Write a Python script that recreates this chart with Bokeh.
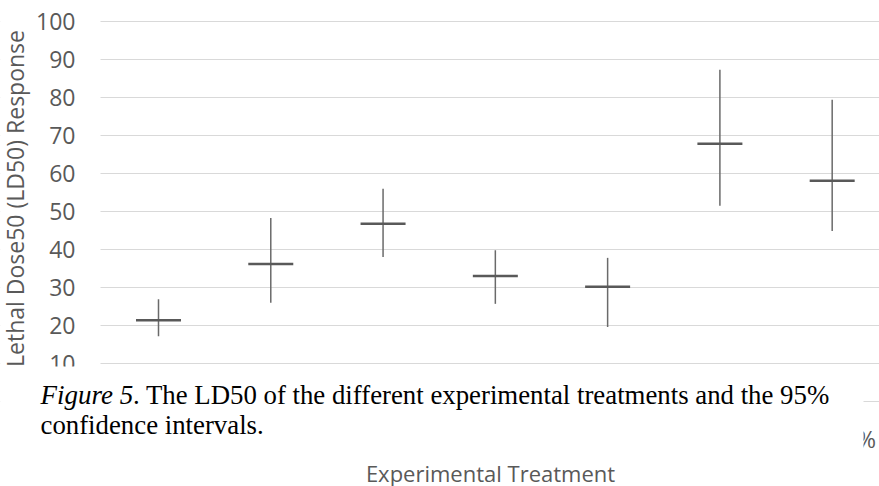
from bokeh.plotting import figure
from bokeh.models import (Range1d, FixedTicker, Label, LabelSet, BoxAnnotation, Grid,
                          ColumnDataSource)
from bokeh.core.properties import value
from bokeh.embed import file_html
from bokeh.resources import INLINE
import math

# ---- data ----
treatments = ["T1", "T2", "T3", "T4", "T5", "T6", "T7"]
ld50 = [21.4, 36.2, 46.8, 33.0, 30.2, 67.8, 58.1]
ci_lower = [17.2, 26.0, 38.0, 25.7, 19.6, 51.5, 44.9]
ci_upper = [26.9, 48.3, 56.0, 39.8, 37.8, 87.3, 79.4]
y_ticks = [0, 10, 20, 30, 40, 50, 60, 70, 80, 90, 100]

x_title = "Experimental Treatment"
y_title = "Lethal Dose50 (LD50) Response"
cap_italic = "Figure 5"
cap_rest = ".  The LD50 of the different experimental treatments and the 95%"
cap_line2 = "confidence intervals."

# ---- geometry of the chart (pixels) ----
W, H = 879, 486
CAT0_PX, CAT_STEP = 158.0, 112.28      # centre of first category, spacing
Y100_PX, PX_PER_UNIT = 21.0, 3.8       # pixel row of value 100, pixels per unit

def px_x(px):
    return (px - CAT0_PX) / CAT_STEP

def px_y(py):
    return 100 - (py - Y100_PX) / PX_PER_UNIT

p = figure(width=W, height=H, output_backend="svg", toolbar_location=None,
           x_range=Range1d(px_x(0), px_x(W)), y_range=Range1d(px_y(H), px_y(0)),
           x_axis_type=None, y_axis_type=None,
           min_border=0, min_border_left=0, min_border_right=0,
           min_border_top=0, min_border_bottom=0)
p.outline_line_color = None
p.background_fill_color = "white"
p.border_fill_color = "white"

ticker = FixedTicker(ticks=y_ticks)
p.add_layout(Grid(dimension=1, ticker=ticker, grid_line_color="#d9d9d9", grid_line_width=1))
# plot area starts at x=100: blank the grid left of it
p.add_layout(BoxAnnotation(left=px_x(0), right=px_x(100), top=px_y(0), bottom=px_y(H),
                           fill_color="white", fill_alpha=1.0, line_alpha=0, level="underlay"))

xs = list(range(len(treatments)))
p.segment(x0=xs, y0=ci_lower, x1=xs, y1=ci_upper, line_color="#6a6a6a", line_width=1.5)
p.scatter(x=xs, y=ld50, marker="dash", size=45, line_color="#595959", line_width=2.5)

# y tick labels
tick_src = ColumnDataSource(dict(x=[px_x(75)] * len(y_ticks), y=y_ticks,
                                 t=[str(v) for v in y_ticks]))
p.add_layout(LabelSet(x="x", y="y", text="t", source=tick_src, text_font=value("Open Sans"),
                      text_font_size=value("23px"), text_color="#595959",
                      text_align="right", text_baseline="middle"))

# partially hidden x tick label fragment
p.add_layout(Label(x=px_x(866), y=px_y(438), text="%", text_font="Open Sans",
                   text_font_size="23px", text_color="#595959",
                   text_align="center", text_baseline="middle"))

# caption box covering the x labels
p.add_layout(BoxAnnotation(left=px_x(28), right=px_x(863), top=px_y(366), bottom=px_y(462),
                           fill_color="white", fill_alpha=1.0, line_alpha=0))

serif = "Liberation Serif"
p.add_layout(Label(x=px_x(40), y=px_y(394), text=cap_italic, text_font=serif,
                   text_font_style="italic", text_font_size="27px", text_color="black",
                   text_align="left", text_baseline="middle"))
p.add_layout(Label(x=px_x(132.5), y=px_y(394), text=cap_rest, text_font=serif,
                   text_font_size="26.8px", text_color="black",
                   text_align="left", text_baseline="middle"))
p.add_layout(Label(x=px_x(40), y=px_y(424), text=cap_line2, text_font=serif,
                   text_font_size="26.8px", text_color="black",
                   text_align="left", text_baseline="middle"))

# axis titles
p.add_layout(Label(x=px_x(490), y=px_y(472), text=x_title, text_font="Open Sans",
                   text_font_size="22px", text_color="#595959",
                   text_align="center", text_baseline="middle"))
p.add_layout(Label(x=px_x(14), y=px_y(198), text=y_title, text_font="Open Sans",
                   text_font_size="23px", text_color="#595959", angle=math.pi / 2,
                   text_align="center", text_baseline="middle"))

open("out.html", "w").write(file_html(p, INLINE))
